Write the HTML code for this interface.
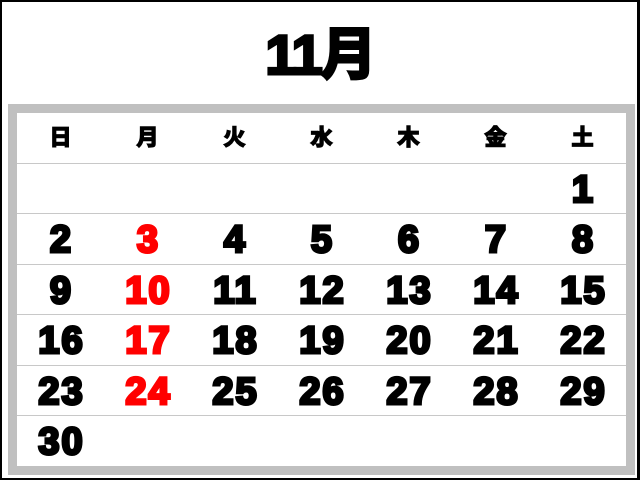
<!DOCTYPE html>
<html><head><meta charset="utf-8"><style>
*{margin:0;padding:0;box-sizing:border-box}
body{width:640px;height:480px;background:#fff;position:relative;overflow:hidden;font-family:"Liberation Sans","Noto Sans CJK JP",sans-serif}
.outer{position:absolute;left:0;top:0;width:640px;height:480px;border:2px solid #000;border-right-width:3px}
.title{position:absolute;left:0;width:640px;top:20px;text-align:center;font-size:56px;font-weight:bold;-webkit-text-stroke:3px #000;letter-spacing:-2px;line-height:70px}
.frame{position:absolute;left:8px;top:104px;width:627px;height:371px;background:#c0c0c0}
.inner{position:absolute;left:17px;top:113px;width:609px;height:353px;background:#fff}
.row{position:absolute;left:0;width:609px;height:50.5px;border-bottom:1px solid #c8c8c8}
.c{position:absolute;width:87px;text-align:center;font-weight:bold;color:#000}
.h .c{font-size:22px;line-height:50px;-webkit-text-stroke:1.5px #000}
.n .c{font-size:38px;line-height:52px;-webkit-text-stroke:3px #000;letter-spacing:2px;text-indent:2px}
.n .c.r{color:#f00;-webkit-text-stroke:3px #f00}
</style></head><body>
<div class="outer"></div>
<div class="title">11月</div>
<div class="frame"></div>
<div class="inner">
<div class="row h" style="top:0"><div class="c" style="left:0">日</div><div class="c" style="left:87px">月</div><div class="c" style="left:174px">火</div><div class="c" style="left:261px">水</div><div class="c" style="left:348px">木</div><div class="c" style="left:435px">金</div><div class="c" style="left:522px">土</div></div>
<div class="row n" style="top:50.5px"><div class="c" style="left:522px">1</div></div>
<div class="row n" style="top:101px"><div class="c" style="left:0">2</div><div class="c r" style="left:87px">3</div><div class="c" style="left:174px">4</div><div class="c" style="left:261px">5</div><div class="c" style="left:348px">6</div><div class="c" style="left:435px">7</div><div class="c" style="left:522px">8</div></div>
<div class="row n" style="top:151.5px"><div class="c" style="left:0">9</div><div class="c r" style="left:87px">10</div><div class="c" style="left:174px">11</div><div class="c" style="left:261px">12</div><div class="c" style="left:348px">13</div><div class="c" style="left:435px">14</div><div class="c" style="left:522px">15</div></div>
<div class="row n" style="top:202px"><div class="c" style="left:0">16</div><div class="c r" style="left:87px">17</div><div class="c" style="left:174px">18</div><div class="c" style="left:261px">19</div><div class="c" style="left:348px">20</div><div class="c" style="left:435px">21</div><div class="c" style="left:522px">22</div></div>
<div class="row n" style="top:252.5px"><div class="c" style="left:0">23</div><div class="c r" style="left:87px">24</div><div class="c" style="left:174px">25</div><div class="c" style="left:261px">26</div><div class="c" style="left:348px">27</div><div class="c" style="left:435px">28</div><div class="c" style="left:522px">29</div></div>
<div class="row n" style="top:303px;border-bottom:none"><div class="c" style="left:0">30</div></div>
</div>
</body></html>
